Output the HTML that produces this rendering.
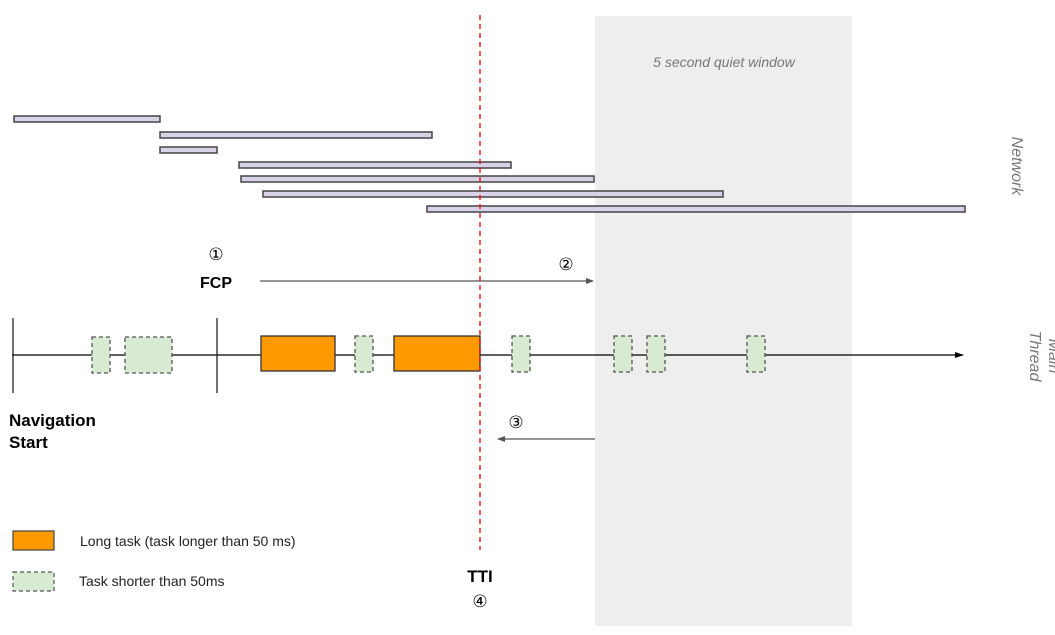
<!DOCTYPE html>
<html><head><meta charset="utf-8"><style>
html,body{margin:0;padding:0;background:#fff;}
svg{display:block;}
text{font-family:"Liberation Sans","DejaVu Sans",sans-serif;}
</style></head><body>
<svg width="1055" height="635" viewBox="0 0 1055 635" xmlns="http://www.w3.org/2000/svg">
<defs>
<marker id="ah" markerWidth="8" markerHeight="8" refX="7" refY="4" orient="auto" markerUnits="userSpaceOnUse"><path d="M0,1 L8,4 L0,7 z" fill="#555"/></marker>
<marker id="ahk" markerWidth="9" markerHeight="8" refX="8" refY="4" orient="auto" markerUnits="userSpaceOnUse"><path d="M0,1 L9,4 L0,7 z" fill="#000"/></marker>
</defs>
<rect x="595" y="16" width="257" height="610" fill="#eeeeee"/>
<text x="724" y="67" font-size="14" font-style="italic" fill="#777" text-anchor="middle">5 second quiet window</text>
<g fill="#d9d2e9" stroke="#444" stroke-width="1.5">
<rect x="14" y="116" width="146" height="6"/>
<rect x="160" y="132" width="272" height="6"/>
<rect x="160" y="147" width="57" height="6"/>
<rect x="239" y="162" width="272" height="6"/>
<rect x="241" y="176" width="353" height="6"/>
<rect x="263" y="191" width="460" height="6"/>
<rect x="427" y="206" width="538" height="6"/>
</g>
<text transform="translate(1012,166) rotate(90)" font-size="16" font-style="italic" fill="#777" text-anchor="middle">Network</text>
<text transform="translate(1030,356) rotate(90)" font-size="16" font-style="italic" fill="#777" text-anchor="middle"><tspan x="0" dy="-19">Main</tspan><tspan x="0" dy="19">Thread</tspan></text>
<text x="216" y="260" font-size="17" text-anchor="middle">①</text>
<text x="216" y="288" font-size="16" font-weight="bold" text-anchor="middle">FCP</text>
<line x1="260" y1="281" x2="593" y2="281" stroke="#555" stroke-width="1.2" marker-end="url(#ah)"/>
<text x="566" y="270" font-size="17" text-anchor="middle">②</text>
<line x1="12" y1="355" x2="963" y2="355" stroke="#000" stroke-width="1.3" marker-end="url(#ahk)"/>
<line x1="13" y1="318" x2="13" y2="393" stroke="#222" stroke-width="1.3"/>
<line x1="217" y1="318" x2="217" y2="393" stroke="#222" stroke-width="1.3"/>
<g fill="#d9ead3" stroke="#555" stroke-width="1.3" stroke-dasharray="4,3">
<rect x="92" y="337" width="18" height="36"/>
<rect x="125" y="337" width="47" height="36"/>
<rect x="355" y="336" width="18" height="36"/>
<rect x="512" y="336" width="18" height="36"/>
<rect x="614" y="336" width="18" height="36"/>
<rect x="647" y="336" width="18" height="36"/>
<rect x="747" y="336" width="18" height="36"/>
</g>
<g fill="#ff9900" stroke="#333" stroke-width="1.3">
<rect x="261" y="336" width="74" height="35"/>
<rect x="394" y="336" width="86" height="35"/>
</g>
<line x1="480" y1="15" x2="480" y2="550" stroke="#ff0000" stroke-width="1.3" stroke-dasharray="5,4"/>
<text x="9" y="426" font-size="17" font-weight="bold">Navigation</text>
<text x="9" y="448" font-size="17" font-weight="bold">Start</text>
<text x="516" y="428" font-size="17" text-anchor="middle">③</text>
<line x1="595" y1="439" x2="498" y2="439" stroke="#555" stroke-width="1.2" marker-end="url(#ah)"/>
<rect x="13" y="531" width="41" height="19" fill="#ff9900" stroke="#444" stroke-width="1.2"/>
<text x="80" y="546" font-size="14" fill="#222">Long task (task longer than 50 ms)</text>
<rect x="13" y="572" width="41" height="19" fill="#d9ead3" stroke="#555" stroke-width="1.2" stroke-dasharray="4,3"/>
<text x="79" y="586" font-size="14" fill="#222">Task shorter than 50ms</text>
<text x="480" y="582" font-size="17" font-weight="bold" text-anchor="middle">TTI</text>
<text x="480" y="607" font-size="17" text-anchor="middle">④</text>
</svg>
</body></html>
